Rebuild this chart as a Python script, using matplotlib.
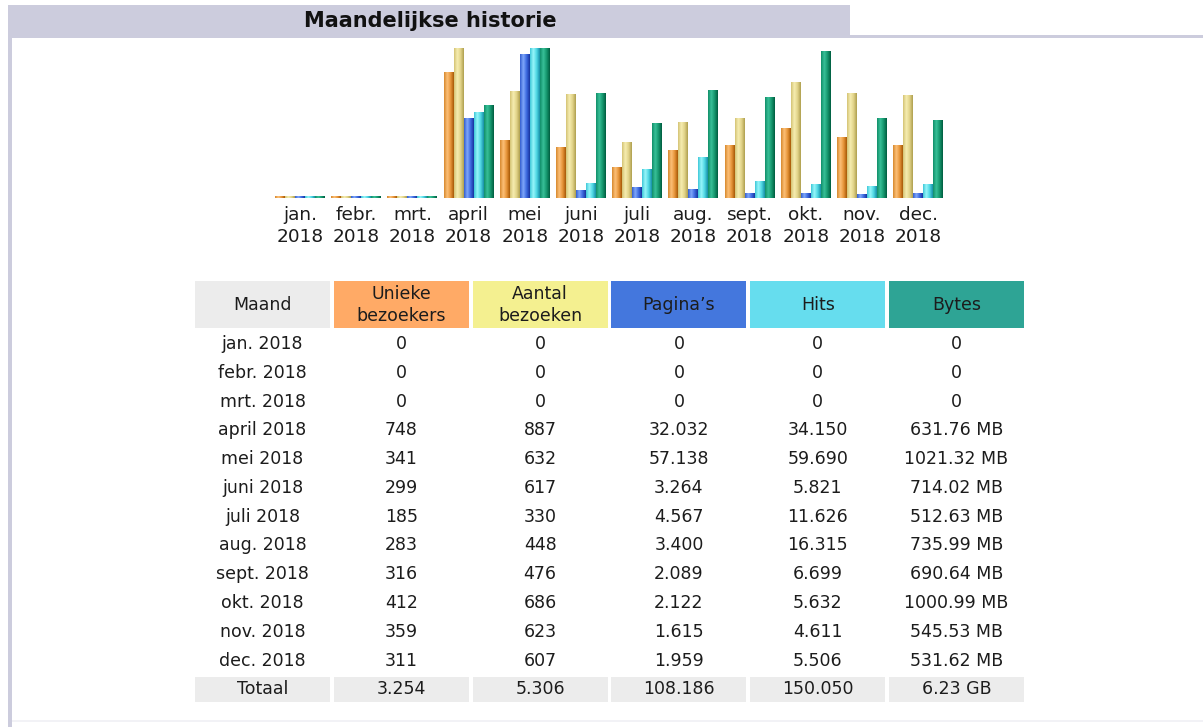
import matplotlib
matplotlib.use('Agg')
import matplotlib.pyplot as plt
from matplotlib.colors import LinearSegmentedColormap
from matplotlib.patches import Rectangle
import numpy as np

# Gegevens (AWStats maandelijkse historie 2018)
maanden = ['jan.', 'febr.', 'mrt.', 'april', 'mei', 'juni', 'juli', 'aug.',
           'sept.', 'okt.', 'nov.', 'dec.']
jaar = 2018
unieke = [0, 0, 0, 748, 341, 299, 185, 283, 316, 412, 359, 311]
bezoeken = [0, 0, 0, 887, 632, 617, 330, 448, 476, 686, 623, 607]
paginas = [0, 0, 0, 32032, 57138, 3264, 4567, 3400, 2089, 2122, 1615, 1959]
hits = [0, 0, 0, 34150, 59690, 5821, 11626, 16315, 6699, 5632, 4611, 5506]
bytes_mb = [0, 0, 0, 631.76, 1021.32, 714.02, 512.63, 735.99, 690.64,
            1000.99, 545.53, 531.62]

kolommen = ['Maand', 'Unieke\nbezoekers', 'Aantal\nbezoeken', 'Pagina\u2019s', 'Hits', 'Bytes']
kop_kleuren = ['#ECECEC', '#FFAA66', '#F4F090', '#4477DD', '#66DDEE', '#2EA495']

# gradienten van de staafjes (links licht, rechts donker)
grad_kleuren = [
    ['#D88A30', '#FCC078', '#E8963A', '#A85A08'],
    ['#D4C476', '#F6EDB0', '#E2D48A', '#B0A050'],
    ['#3560D0', '#80A8FA', '#3D6AE0', '#1834A0'],
    ['#40C8D8', '#98F6FA', '#50D8E4', '#1890A8'],
    ['#12906A', '#38C098', '#16986E', '#005E40'],
]

W, H = 1203, 727
tekst = '#1c1c1c'


def fmt(v):
    return f"{v:,}".replace(',', '.')


def fmt_bytes(v):
    if v == 0:
        return '0'
    if v >= 1024:
        return f"{v / 1024:.2f} GB"
    return f"{v:.2f} MB"


fig = plt.figure(figsize=(W / 100, H / 100), dpi=100)
fig.patch.set_facecolor('white')

# achtergrond-assen in pixelcoordinaten voor kader en tabel
bg = fig.add_axes([0, 0, 1, 1])
bg.set_xlim(0, W)
bg.set_ylim(H, 0)
bg.axis('off')

bg.add_patch(Rectangle((8, 5), 842, 33, color='#CCCCDD', lw=0))
bg.add_patch(Rectangle((850, 35), W - 850, 3, color='#CCCCDD', lw=0))
bg.add_patch(Rectangle((8, 38), 4, H - 38, color='#CCCCDD', lw=0))
bg.add_patch(Rectangle((12, 720), W - 12, 1.5, color='#F2F2F6', lw=0))
bg.text(430, 21, 'Maandelijkse historie', ha='center', va='center',
        fontsize=15, fontweight='bold', color='#111111')

# staafdiagram
ax = fig.add_axes([271.9 / W, (H - 198) / H, 674.4 / W, 150 / H])
ax.set_facecolor('none')

schalen = [max(bezoeken), max(bezoeken), max(hits), max(hits), max(bytes_mb)]
reeksen = [unieke, bezoeken, paginas, hits, bytes_mb]
x = np.arange(len(maanden))
bw = 10 / 56.2
for k, (reeks, schaal) in enumerate(zip(reeksen, schalen)):
    hoogte = np.maximum(np.array(reeks, dtype=float) / schaal, 0.012)
    bars = ax.bar(x + (k - 2) * bw, hoogte, width=bw, color=grad_kleuren[k][2], lw=0)
    cmap = LinearSegmentedColormap.from_list(f'g{k}', grad_kleuren[k])
    grad = np.linspace(0, 1, 32).reshape(1, -1)
    for p in bars.patches:
        x0, y0 = p.get_x(), p.get_y()
        im = ax.imshow(grad, cmap=cmap, aspect='auto', interpolation='bilinear',
                       extent=(x0, x0 + p.get_width(), y0, y0 + p.get_height()), zorder=3)
        im.set_clip_path(p)

ax.set_xlim(-0.5, 11.5)
ax.set_ylim(0, 1)
ax.set_xticks(x, [f'{m}\n{jaar}' for m in maanden])
ax.tick_params(axis='x', length=0, pad=6, labelsize=13.3, colors=tekst)
for lbl in ax.get_xticklabels():
    lbl.set_linespacing(1.25)
ax.set_yticks([])
for s in ax.spines.values():
    s.set_visible(False)

# tabel
col_x0 = 195
col_pitch = 138.8
col_w = 135
for j, (naam, kleur) in enumerate(zip(kolommen, kop_kleuren)):
    cx = col_x0 + j * col_pitch
    bg.add_patch(Rectangle((cx, 281), col_w, 47, color=kleur, lw=0))
    bg.text(cx + col_w / 2, 305, naam, ha='center', va='center', fontsize=12.5,
            color=tekst, linespacing=1.3)

rij_y0 = 344
rij_h = 28.78
for i, m in enumerate(maanden):
    y = rij_y0 + i * rij_h
    waarden = [f'{m} {jaar}', fmt(unieke[i]), fmt(bezoeken[i]), fmt(paginas[i]),
               fmt(hits[i]), fmt_bytes(bytes_mb[i])]
    for j, w in enumerate(waarden):
        bg.text(col_x0 + j * col_pitch + col_w / 2, y, w, ha='center', va='center',
                fontsize=12.5, color=tekst)

y_tot = rij_y0 + len(maanden) * rij_h
totalen = ['Totaal', fmt(sum(unieke)), fmt(sum(bezoeken)), fmt(sum(paginas)),
           fmt(sum(hits)), fmt_bytes(sum(bytes_mb))]
for j, w in enumerate(totalen):
    cx = col_x0 + j * col_pitch
    bg.add_patch(Rectangle((cx, y_tot - 12.5), col_w, 25, color='#ECECEC', lw=0))
    bg.text(cx + col_w / 2, y_tot, w, ha='center', va='center', fontsize=12.5, color=tekst)

fig.savefig('out.png', dpi=100)
